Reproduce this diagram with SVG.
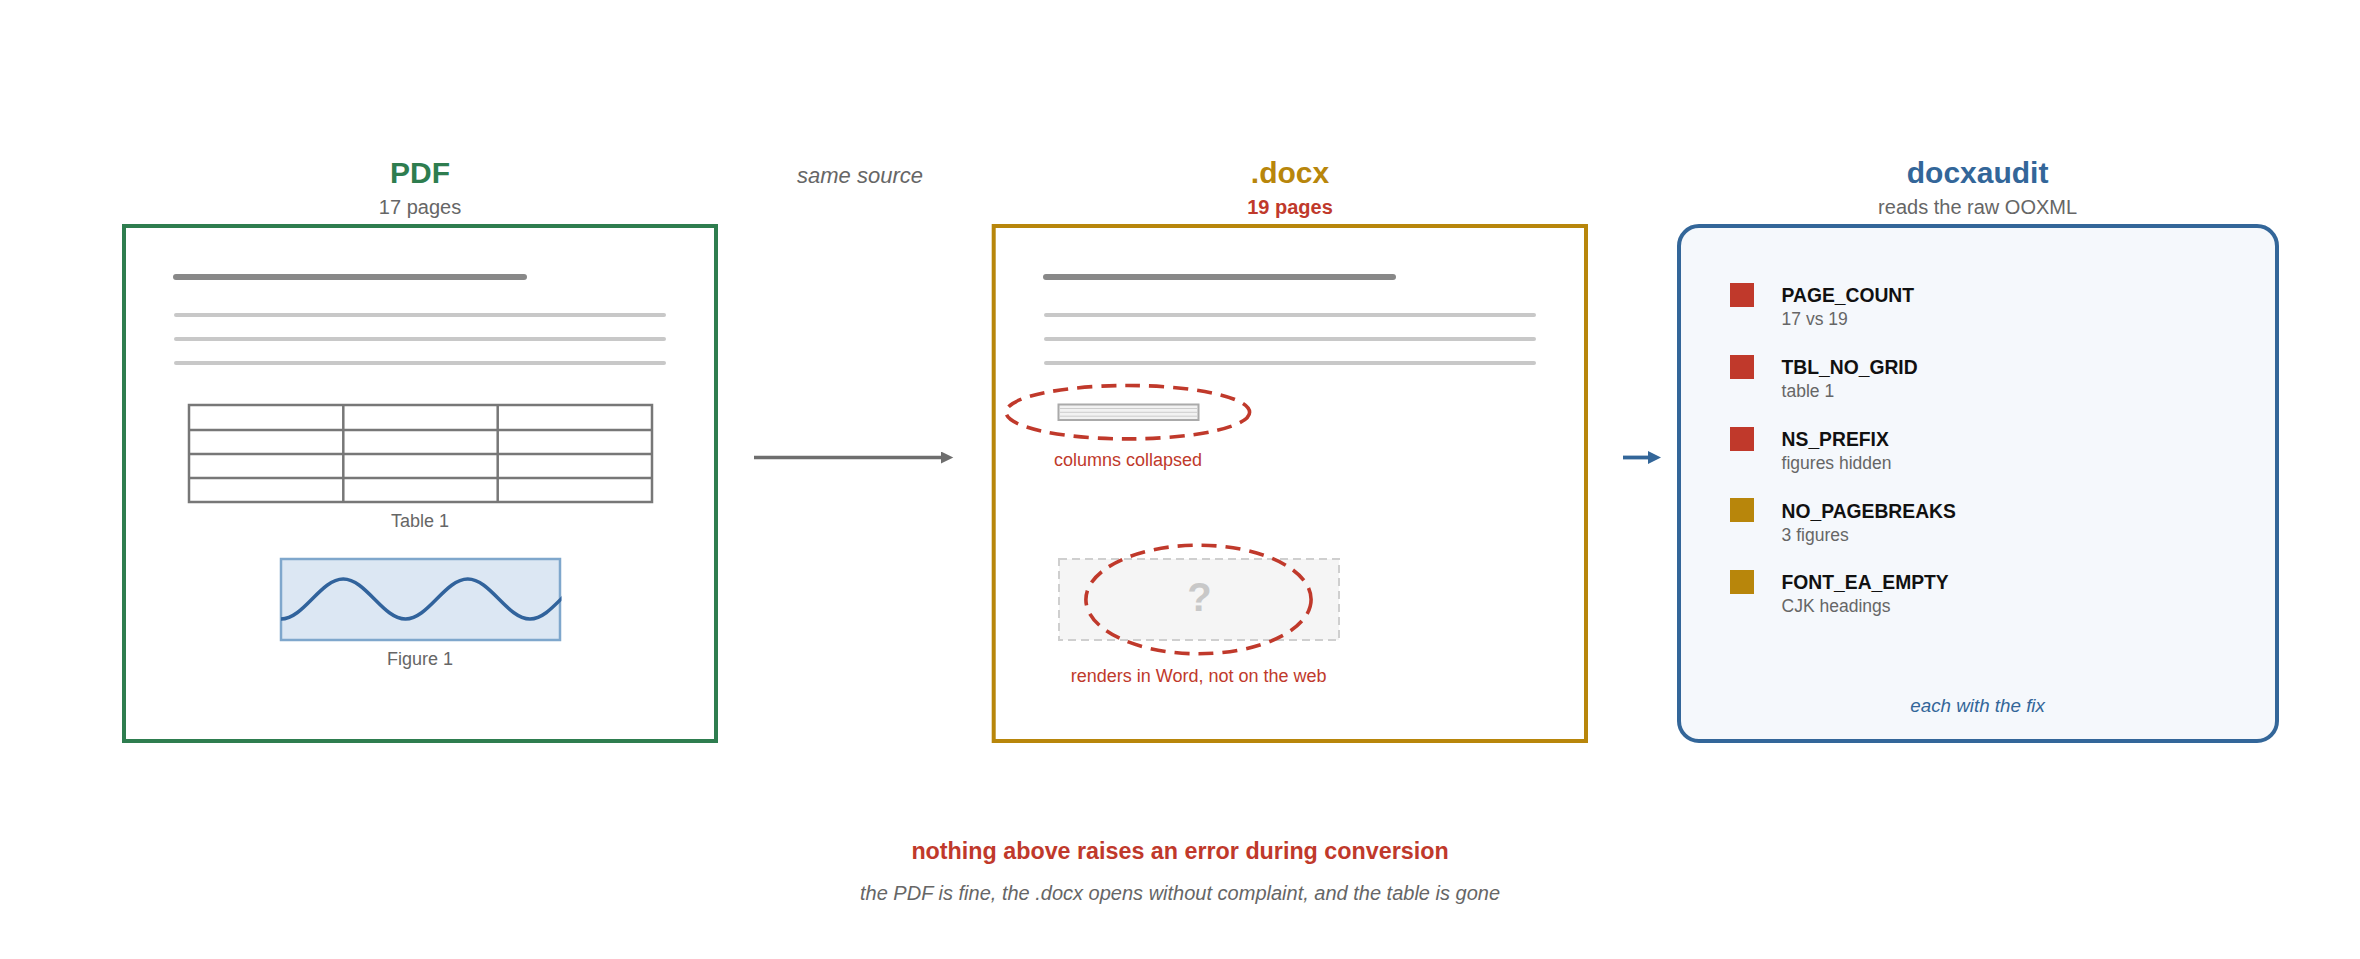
<svg xmlns="http://www.w3.org/2000/svg" width="2360" height="959" viewBox="0 0 2360 959">
  <defs>
    <style>
      text { font-family: "Liberation Sans", Arial, sans-serif; }
      .title { font-size: 30px; font-weight: bold; text-anchor: middle; }
      .sub { font-size: 20px; fill: #666; text-anchor: middle; }
      .cap { font-size: 18px; fill: #666; text-anchor: middle; }
      .warn { font-size: 18px; fill: #c0392b; text-anchor: middle; }
      .head { stroke: #888; stroke-width: 6; stroke-linecap: round; }
      .line { stroke: #c8c8c8; stroke-width: 4; stroke-linecap: round; }
      .tbl { fill: none; stroke: #777; stroke-width: 2.5; }
      .ring { fill: none; stroke: #c0392b; stroke-width: 3.6; stroke-dasharray: 15 9; }
      .code { font-size: 19.3px; font-weight: bold; fill: #111; }
      .detail { font-size: 17.5px; fill: #666; }
      .sqr { fill: #c0392b; }
      .sqy { fill: #b8860b; }
    </style>
    <clipPath id="figclip">
      <rect x="279.5" y="557.5" width="282" height="84"/>
    </clipPath>
    <marker id="ahGray" markerUnits="userSpaceOnUse" markerWidth="13" markerHeight="12" refX="0" refY="6" orient="auto">
      <path d="M0,0 L12.3,6 L0,12 z" fill="#6e6e6e"/>
    </marker>
    <marker id="ahBlue" markerUnits="userSpaceOnUse" markerWidth="14" markerHeight="13" refX="0" refY="6.5" orient="auto">
      <path d="M0,0 L13,6.5 L0,13 z" fill="#336699"/>
    </marker>
  </defs>
  <rect x="0" y="0" width="2360" height="959" fill="#ffffff"/>

  <!-- PDF node -->
  <g id="pdf">
    <text class="title" x="420" y="183" fill="#2e7d4f">PDF</text>
    <text class="sub" x="420" y="214">17 pages</text>
    <rect x="124" y="226" width="592" height="515" fill="#ffffff" stroke="#2e7d4f" stroke-width="4"/>
    <line class="head" x1="176" y1="277" x2="524" y2="277"/>
    <line class="line" x1="176" y1="315" x2="664" y2="315"/>
    <line class="line" x1="176" y1="339" x2="664" y2="339"/>
    <line class="line" x1="176" y1="363" x2="664" y2="363"/>
    <g id="pdf-table">
      <rect class="tbl" x="189" y="405" width="463" height="97"/>
      <line class="tbl" x1="189" y1="430" x2="652" y2="430"/>
      <line class="tbl" x1="189" y1="454" x2="652" y2="454"/>
      <line class="tbl" x1="189" y1="478" x2="652" y2="478"/>
      <line class="tbl" x1="343.3" y1="405" x2="343.3" y2="502"/>
      <line class="tbl" x1="497.7" y1="405" x2="497.7" y2="502"/>
    </g>
    <text class="cap" x="420" y="527">Table 1</text>
    <rect x="281" y="559" width="279" height="81" fill="#dce7f3" stroke="#7fa7cc" stroke-width="2.5"/>
    <path clip-path="url(#figclip)" d="M281,619 C303.7,619 320.6,579 343.25,579 C365.9,579 382.8,619 405.5,619 C428.2,619 445.1,579 467.75,579 C490.4,579 507.3,619 530,619 C552.7,619 569.6,579 592.25,579" fill="none" stroke="#31639c" stroke-width="3.5"/>
    <text class="cap" x="420" y="665">Figure 1</text>
  </g>

  <!-- DOCX node -->
  <g id="docx">
    <text class="title" x="1290" y="183" fill="#b8860b">.docx</text>
    <text class="sub" x="1290" y="214" fill="#c0392b" font-weight="bold" style="fill:#c0392b">19 pages</text>
    <rect x="993.7" y="226" width="592.3" height="515" fill="#ffffff" stroke="#b8860b" stroke-width="4"/>
    <line class="head" x1="1046" y1="277" x2="1393" y2="277"/>
    <line class="line" x1="1046" y1="315" x2="1534" y2="315"/>
    <line class="line" x1="1046" y1="339" x2="1534" y2="339"/>
    <line class="line" x1="1046" y1="363" x2="1534" y2="363"/>
    <g id="docx-table">
      <rect x="1058.5" y="404.5" width="140" height="15.5" fill="#f2f2f2" stroke="#aaaaaa" stroke-width="2"/>
      <line x1="1059.5" y1="408.5" x2="1197.5" y2="408.5" stroke="#cccccc" stroke-width="1"/>
      <line x1="1059.5" y1="412.3" x2="1197.5" y2="412.3" stroke="#cccccc" stroke-width="1"/>
      <line x1="1059.5" y1="416.2" x2="1197.5" y2="416.2" stroke="#cccccc" stroke-width="1"/>
    </g>
    <ellipse class="ring" cx="1127.8" cy="412.2" rx="121.8" ry="26.7"/>
    <text class="warn" x="1128" y="466">columns collapsed</text>
    <rect x="1059" y="559" width="280" height="81" fill="#f5f5f5" stroke="#cfcfcf" stroke-width="2" stroke-dasharray="8 5"/>
    <text x="1199.5" y="611" font-size="40" font-weight="bold" fill="#c8c8c8" text-anchor="middle">?</text>
    <ellipse class="ring" cx="1198.5" cy="599.5" rx="112.6" ry="54.3"/>
    <text class="warn" x="1198.6" y="681.5">renders in Word, not on the web</text>
  </g>

  <!-- docxaudit node -->
  <g id="docxaudit">
    <text class="title" x="1977.6" y="183" fill="#336699">docxaudit</text>
    <text class="sub" x="1977.6" y="214">reads the raw OOXML</text>
    <rect x="1679" y="226" width="598" height="515" rx="20" ry="20" fill="#f5f8fc" stroke="#336699" stroke-width="4"/>
    <g id="check-page-count">
      <rect class="sqr" x="1730" y="283" width="24" height="24"/>
      <text class="code" x="1781.6" y="302">PAGE_COUNT</text>
      <text class="detail" x="1781.6" y="325">17 vs 19</text>
    </g>
    <g id="check-tbl-no-grid">
      <rect class="sqr" x="1730" y="355" width="24" height="24"/>
      <text class="code" x="1781.6" y="374">TBL_NO_GRID</text>
      <text class="detail" x="1781.6" y="397">table 1</text>
    </g>
    <g id="check-ns-prefix">
      <rect class="sqr" x="1730" y="427" width="24" height="24"/>
      <text class="code" x="1781.6" y="446">NS_PREFIX</text>
      <text class="detail" x="1781.6" y="469">figures hidden</text>
    </g>
    <g id="check-no-pagebreaks">
      <rect class="sqy" x="1730" y="498" width="24" height="24"/>
      <text class="code" x="1781.6" y="518">NO_PAGEBREAKS</text>
      <text class="detail" x="1781.6" y="541">3 figures</text>
    </g>
    <g id="check-font-ea-empty">
      <rect class="sqy" x="1730" y="570" width="24" height="24"/>
      <text class="code" x="1781.6" y="589">FONT_EA_EMPTY</text>
      <text class="detail" x="1781.6" y="612">CJK headings</text>
    </g>
    <text x="1977.6" y="712" font-size="18.8" font-style="italic" fill="#336699" text-anchor="middle">each with the fix</text>
  </g>

  <!-- connectors -->
  <g id="connectors">
    <text x="860" y="183" font-size="22" font-style="italic" fill="#666" text-anchor="middle">same source</text>
    <line x1="754" y1="457.5" x2="941" y2="457.5" stroke="#6e6e6e" stroke-width="3.4" marker-end="url(#ahGray)"/>
    <line x1="1623" y1="457.5" x2="1648" y2="457.5" stroke="#336699" stroke-width="3.8" marker-end="url(#ahBlue)"/>
  </g>

  <!-- footer -->
  <g id="footer">
    <text x="1180" y="859" font-size="23.3" font-weight="bold" fill="#c0392b" text-anchor="middle">nothing above raises an error during conversion</text>
    <text x="1180" y="900" font-size="20" font-style="italic" fill="#666" text-anchor="middle">the PDF is fine, the .docx opens without complaint, and the table is gone</text>
  </g>
</svg>
